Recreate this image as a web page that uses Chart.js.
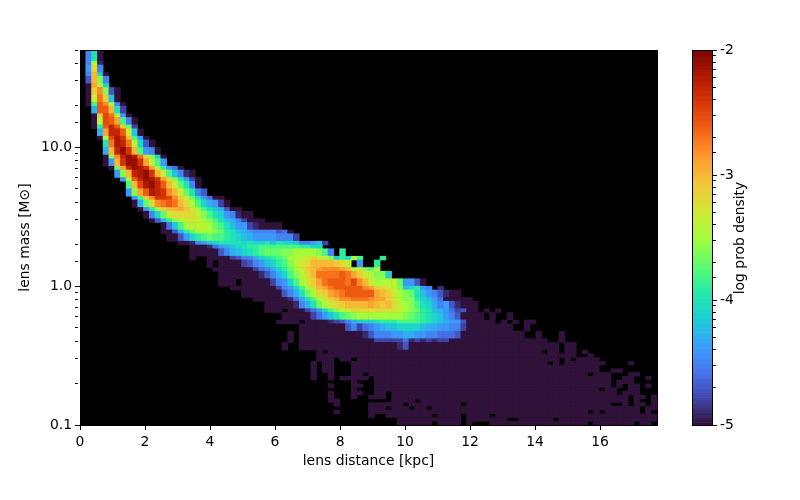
<!DOCTYPE html>
<html>
<head>
<meta charset="utf-8">
<script src="https://cdn.jsdelivr.net/npm/chart.js@4"></script>
<style>
  html, body { margin: 0; padding: 0; background: #fff; }
  canvas { position: absolute; left: 0; top: 0; }
</style>
</head>
<body>
<canvas id="density-chart" width="800" height="500"></canvas>
<canvas id="colorbar-chart" width="800" height="500"></canvas>
<script>
// first filled column of each mass row, top row first
const rowOffsets = [1,1,1,1,1,1,1,1,1,2,2,2,2,3,3,4,4,4,4,5,6,7,8,8,9,9,10,11,12,14,14,15,17,19,19,19,22,23,24,24,26,28,30,32,32,35,34,38,36,36,35,
  40,40,40,40,40,40,40,40,40,40,40,40,40,40,40,40,40,40,40,40];

// how many of the 100 mass bins each row covers
const rowSpans = [3,1,2,1,2,1,2,2,1,2,1,2,1,2,1,2,2,1,2,1,2,1,2,2,1,2,1,2,1,2,1,2,1,1,2,1,2,1,2,2,1,2,1,2,1,2,1,2,2,1,2,
  1,1,1,1,1,1,1,1,1,1,1,1,1,1,1,1,1,1,1,1];

// one character per distance bin: base 36 level, log density = -5 + level / 10, "." = empty
const rowLevels = [
  "5a0",
  "5f1",
  "6i5",
  "5k90",
  "3ke5",
  "0lg9",
  "0jme30",
  "0hnj80",
  "0comf50",
  "7ooka2",
  "0jpng60",
  "0gpolc50",
  "0borojd2",
  "7lrroh80",
  "0fpsqkc60",
  "ansrng930",
  "7krtqkc650",
  "0emrtsnie90",
  "06kqttqlgc6",
  "0dlrtsqlfb640",
  "6ekrstqkhc8510",
  "6fortsqliea620",
  "ckpstrokhda50",
  "6elosrqmkhda53",
  "6cjmqqpmjhda6400",
  "07dimnonkifc97620",
  "06bfjkkljhfca87300",
  "059dgiiiigeca965100",
  "037befhhhfeca8752000",
  "048cfgggfdca866210000",
  "0037bdfffedba8765555340",
  "00369bcdccba98766665552",
  "0015689aaaa9a99a8a99855682",
  "000146789abbcccccccbb99",
  "0000035789abcdddeeffffec5.b",
  "0..0000235579abcdffghihge9b9fc...b",
  "0.0000235689bceghikkkkjig.6..b",
  "000000024579bdfhjklmmmlkfhecg",
  "000000013579cegiknnnnonljhgee9",
  "000.000002569cfhjlnooonpmkhffggd6630",
  "000000002569cfiklnooooomljihge89b65.1",
  "0000000357adfijlmnooooolkjhfeda8653100",
  "000000147acfhjkmmnnnmlljhfeeb986400000",
  "00000157adfhijkkkklkjkigfeca975631000",
  "000.0002469ceghiiiiiiihgfedba87642300.0.0",
  "000002468acdeffffffffedcba986530000.0..0",
  "0000.000012357899abbbccccba98766300000.0.0.00",
  "0000000035245678899998776655200000000..0",
  "0.000000000001355566776655444300000000000..0...0",
  "0.0000000000000222224121212200000000000000000..0",
  "0..0000000000000000013 00000000000000000000000000 .00",
  ".0.0000000 0000000000 0000000000 0000000000 .00.00.0",
  ".000000000 0000000000 0000000000 0000000000 000000..0",
  ".000.00.00 0000000000 0000000000 0000000000 000.0.0000",
  "0.00...000 0000000000 0000000000 0000000000 0.0.000000 0....0",
  "0.00...000 0000000000 0000000000 0000000000 0000000000",
  "0.00...000 0000000000 0000000000 0000000000 0000000000 ..00",
  "0..0...00. 0000000000 0000000000 0000000000 00000000.0 00...00",
  "0..0.00000 .000000000 0000000000 0000000000 0000000000 00..00..0",
  ".......0.. .000000000 0000000000 0000000000 0000000000 00.000",
  "...0...00. .000000000 0000000000 0000000000 0000000000 00.0.00.0",
  ".......0.. .000000000 0000000000 0000000000 0000000000 .00..00",
  "...0...00. .00.000000 0000000000 0000000000 0000000000 000.000",
  "...0...0.. 000.000000 0000000000 0000000000 0000000000 00000.00.0",
  "...00..... ....0000.0 0000000000 0000000000 0000000000 00000.0..0",
  "....0..... 000000.000 000000.000 0000000000 0000000000 00..0.00.0",
  ".......... 000.000.00 .000000000 0000000000 0000000000 0000000.00",
  "....0..... 0000000000 0000000000 0000000000 00000000.0 .000000.0",
  ".......... 0..0000000 0.0000.000 0.00000000 0000000000 0000000000",
  ".......... .....00000 000000.000 0000..0000 00.0000000 0000000000",
  ".......... .....00000 0.0000.0.. .000000000 00000000.0 000000.00."
];

const xTickValues = [0, 2, 4, 6, 8, 10, 12, 14, 16];
const massMin = 0.1;
const massMax = 50;
const distanceMax = 17.75;
const distanceBins = 100;
const massBins = 100;
const turboStops = ["#30123b","#4145ab","#4675ed","#39a2fc","#1bcfd4","#24eca6","#61fc6c","#a4fc3b","#d1e834","#f3c63a","#fe9b2d","#f36315","#d93806","#b11901","#7a0402"];

const axisFont = { family: "'DejaVu Sans'", size: 13.9 };

function turboColor(logValue) {
  const pos = Math.min(Math.max((logValue + 5) / 3, 0), 1) * (turboStops.length - 1);
  const low = Math.min(Math.floor(pos), turboStops.length - 2);
  const frac = pos - low;
  const a = parseInt(turboStops[low].slice(1), 16);
  const b = parseInt(turboStops[low + 1].slice(1), 16);
  const mix = shift => Math.round(((a >> shift) & 255) * (1 - frac) + ((b >> shift) & 255) * frac);
  return "rgb(" + mix(16) + "," + mix(8) + "," + mix(0) + ")";
}

function buildCells() {
  const cells = [];
  const colors = [];
  const binWidth = distanceMax / distanceBins;
  const logTop = Math.log10(massMax);
  const logStep = (logTop - Math.log10(massMin)) / massBins;
  let binsDone = 0;

  rowLevels.forEach((text, r) => {
    const row = text.replace(/ /g, "");
    const high = Math.pow(10, logTop - binsDone * logStep);
    binsDone += rowSpans[r];
    const low = Math.pow(10, logTop - binsDone * logStep);

    for (let i = 0; i < row.length; i++) {
      if (row[i] === ".") continue;
      cells.push({ x: (rowOffsets[r] + i + 0.5) * binWidth, y: [low, high] });
      colors.push(turboColor(-5 + parseInt(row[i], 36) / 10));
    }
  });

  return { cells, colors };
}

function isDecade(value) {
  const log = Math.log10(value);
  return Math.abs(log - Math.round(log)) < 1e-6;
}

// matplotlib style minor ticks: only the part next to the axis is painted
function minorDash(ctx) {
  return ctx.tick && isDecade(ctx.tick.value) ? [] : [2.8, 20];
}

const frame = {
  id: "frame",
  beforeDatasetsDraw(chart, args, opts) {
    if (!opts.fill) return;
    const a = chart.chartArea;
    chart.ctx.fillStyle = opts.fill;
    chart.ctx.fillRect(a.left, a.top, a.right - a.left, a.bottom - a.top);
  },
  afterDraw(chart) {
    const a = chart.chartArea;
    chart.ctx.save();
    chart.ctx.strokeStyle = "#000";
    chart.ctx.lineWidth = 1;
    chart.ctx.strokeRect(a.left + 0.5, a.top + 0.5, a.right - a.left, a.bottom - a.top);
    chart.ctx.restore();
  }
};

const { cells, colors } = buildCells();

new Chart(document.getElementById("density-chart"), {
  type: "bar",
  plugins: [frame],
  data: {
    datasets: [{
      data: cells,
      backgroundColor: colors,
      borderWidth: 0,
      barThickness: distanceMax / distanceBins * 32.5,
      grouped: false
    }]
  },
  options: {
    responsive: false,
    animation: false,
    layout: { padding: { top: 50, right: 143, left: 16, bottom: 30 } },
    plugins: {
      legend: { display: false },
      tooltip: { enabled: false },
      frame: { fill: "#000" }
    },
    scales: {
      x: {
        type: "linear",
        offset: false,
        min: 0,
        max: distanceMax,
        afterFit: scale => { scale.height = 45; },
        afterBuildTicks: scale => { scale.ticks = xTickValues.map(value => ({ value })); },
        border: { color: "#000" },
        grid: { drawOnChartArea: false, offset: false, color: "#000", tickLength: 5 },
        ticks: { color: "#000", font: axisFont, maxRotation: 0, padding: 4 },
        title: { display: true, text: "lens distance [kpc]", color: "#000", font: axisFont, padding: { top: 3, bottom: 0 } }
      },
      y: {
        type: "logarithmic",
        min: massMin,
        max: massMax,
        afterFit: scale => { scale.width = 64; },
        border: { color: "#000" },
        grid: { drawOnChartArea: false, color: "#000", tickLength: 5, tickBorderDash: minorDash },
        ticks: {
          color: "#000",
          font: axisFont,
          autoSkip: false,
          padding: 3,
          callback: value => isDecade(value) ? value.toFixed(1) : ""
        },
        title: { display: true, text: "lens mass [M\u2299]", color: "#000", font: axisFont, padding: { top: 1, bottom: 6 } }
      }
    }
  }
});

// colour bar, same colour map on a log axis labelled in decades
const barSlices = [];
const barColors = [];
for (let i = 0; i < 150; i++) {
  const low = -5 + i * 0.02;
  barSlices.push({ x: 0.5, y: [Math.pow(10, low), Math.pow(10, low + 0.02)] });
  barColors.push(turboColor(low + 0.01));
}

const barTitle = {
  id: "barTitle",
  afterDraw(chart) {
    const ctx = chart.ctx;
    ctx.save();
    ctx.translate(740, 238);
    ctx.rotate(-Math.PI / 2);
    ctx.textAlign = "center";
    ctx.textBaseline = "middle";
    ctx.fillStyle = "#000";
    ctx.font = "13.9px 'DejaVu Sans'";
    ctx.fillText("log prob density", 0, 0);
    ctx.restore();
  }
};

new Chart(document.getElementById("colorbar-chart"), {
  type: "bar",
  plugins: [frame, barTitle],
  data: {
    datasets: [{
      data: barSlices,
      backgroundColor: barColors,
      borderWidth: 0,
      barThickness: 20,
      grouped: false
    }]
  },
  options: {
    responsive: false,
    animation: false,
    layout: { padding: { top: 50, left: 692, bottom: 75 } },
    plugins: { legend: { display: false }, tooltip: { enabled: false } },
    scales: {
      x: { type: "linear", offset: false, min: 0, max: 1, display: false },
      y: {
        type: "logarithmic",
        position: "right",
        min: 1e-5,
        max: 1e-2,
        afterFit: scale => { scale.width = 88; },
        border: { color: "#000" },
        grid: { drawOnChartArea: false, color: "#000", tickLength: 5, tickBorderDash: minorDash },
        ticks: {
          color: "#000",
          font: axisFont,
          autoSkip: false,
          padding: 3,
          callback: value => isDecade(value) ? String(Math.round(Math.log10(value))) : ""
        }
      }
    }
  }
});
</script>
</body>
</html>
